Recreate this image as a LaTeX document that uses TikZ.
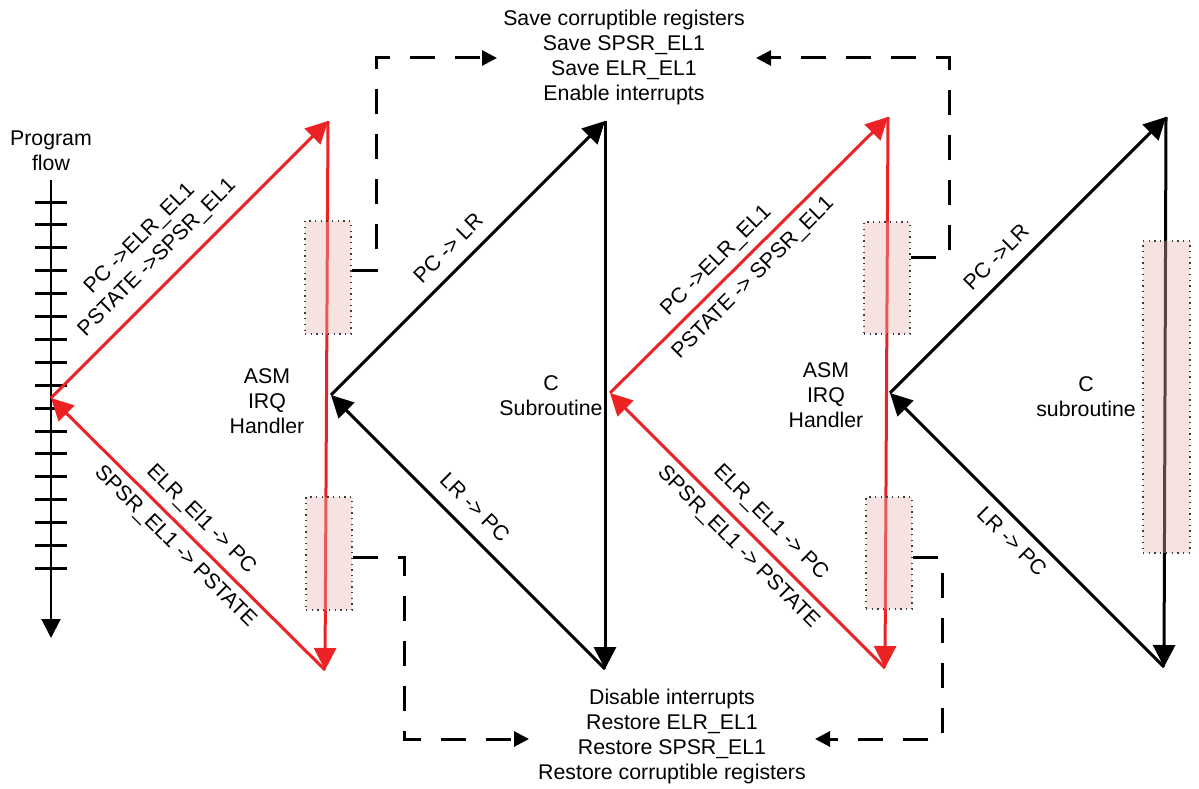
\documentclass[tikz,border=0pt]{standalone}
\usepackage{fontspec}
\setmainfont{Liberation Sans}
\usetikzlibrary{arrows.meta}
\definecolor{myred}{RGB}{236,34,36}
\definecolor{boxfill}{RGB}{230,180,175}
\definecolor{dotc}{RGB}{60,60,60}
\begin{document}
\begin{tikzpicture}[x=1pt,y=-1pt,
  txt/.style={font=\fontsize{21.3}{25}\selectfont, inner sep=0pt, align=center},
  redl/.style={draw=myred, line width=3pt, -{Triangle[length=22pt,width=22pt]}, myred},
  blkl/.style={draw=black, line width=3pt, -{Triangle[length=22pt,width=22pt]}},
  pinkbox/.style={fill=boxfill, fill opacity=0.38, draw=dotc, line width=1.3pt,
                  dash pattern=on 1.3pt off 4.4pt, inner sep=0pt},
  dashc/.style={draw=black, line width=3pt, dash pattern=on 25pt off 20pt,
                -{Triangle[length=15pt,width=15pt]}},
  tick/.style={draw=black, line width=3pt},
]
\useasboundingbox (0,0) rectangle (1199,789);

% ---------- program flow axis ----------
\node[txt] (pf) at (51,151) {Program\\flow};
\coordinate (ax0) at (51,180);
\coordinate (ax1) at (51,638);
\draw[line width=2pt, -{Triangle[length=19pt,width=19pt]}] (ax0) -- (ax1);
\foreach \i in {0,...,16}
  \draw[tick] (35,{202+22.9*\i}) -- (67,{202+22.9*\i});

% ---------- vertices ----------
\coordinate (r1L) at (51,398);
\coordinate (r1T) at (328,121);
\coordinate (r1B) at (325,670);
\coordinate (b1L) at (331,395);
\coordinate (b1T) at (605,121);
\coordinate (b1B) at (605,669);
\coordinate (r2L) at (610,393);
\coordinate (r2T) at (888,117);
\coordinate (r2B) at (885,668);
\coordinate (b2L) at (890,393);
\coordinate (b2T) at (1166,117);
\coordinate (b2B) at (1164,667);

% ---------- triangles ----------
\draw[redl] (r1L) -- (r1T);
\draw[redl] (r1T) -- (r1B);
\draw[redl] (r1B) -- (r1L);
\draw[blkl] (b1L) -- (b1T);
\draw[blkl] (b1T) -- (b1B);
\draw[blkl] (b1B) -- (b1L);
\draw[redl] (r2L) -- (r2T);
\draw[redl] (r2T) -- (r2B);
\draw[redl] (r2B) -- (r2L);
\draw[blkl] (b2L) -- (b2T);
\draw[blkl] (b2T) -- (b2B);
\draw[blkl] (b2B) -- (b2L);

% ---------- shaded boxes ----------
\node[pinkbox, minimum width=46pt, minimum height=113pt] (b1a) at (328,277.5) {};
\node[pinkbox, minimum width=46pt, minimum height=113pt] (b1b) at (329,553.5) {};
\node[pinkbox, minimum width=46pt, minimum height=112pt] (b2a) at (887,278) {};
\node[pinkbox, minimum width=46pt, minimum height=112pt] (b2b) at (889,553) {};
\node[pinkbox, minimum width=47pt, minimum height=312pt] (b3) at (1166.5,397) {};

% ---------- texts ----------
\node[txt] (save) at (624,57) {Save corruptible registers\\Save SPSR\_EL1\\Save ELR\_EL1\\Enable interrupts};
\node[txt] (rest) at (672,736) {Disable interrupts\\Restore ELR\_EL1\\Restore SPSR\_EL1\\Restore corruptible registers};
\node[txt] (asm1) at (267,401) {ASM\\IRQ\\Handler};
\node[txt] (asm2) at (826,395) {ASM\\IRQ\\Handler};
\node[txt] (c1) at (551,396) {C\\Subroutine};
\node[txt] (c2) at (1086,397) {C\\subroutine};

% ---------- diagonal labels ----------
\node[txt, rotate=45] (l1a) at (140,239) {PC ->ELR\_EL1};
\node[txt, rotate=45] (l1b) at (157.5,258) {PSTATE ->SPSR\_EL1};
\node[txt, rotate=-45] (l2a) at (201,519.5) {ELR\_El1 -> PC};
\node[txt, rotate=-45] (l2b) at (175,546.7) {SPSR\_EL1 -> PSTATE};
\node[txt, rotate=45] (l3) at (448,248) {PC -> LR};
\node[txt, rotate=-45] (l4) at (475,507) {LR -> PC};
\node[txt, rotate=45] (l5a) at (716.5,261) {PC ->ELR\_EL1};
\node[txt, rotate=45] (l5b) at (753.5,278) {PSTATE -> SPSR\_EL1};
\node[txt, rotate=-45] (l6a) at (770.5,522.5) {ELR\_EL1 -> PC};
\node[txt, rotate=-45] (l6b) at (738,547.5) {SPSR\_EL1 -> PSTATE};
\node[txt, rotate=45] (l7) at (996,257) {PC ->LR};
\node[txt, rotate=-45] (l8) at (1012,541) {LR -> PC};

% ---------- dashed connectors ----------
\coordinate (tl1) at (376,270);
\coordinate (tl2) at (376,58);
\coordinate (tlt) at (497,58);
\draw[dashc] (b1a.east |- tl1) -- (tl1) -- (tl2) -- (tlt);
\coordinate (tr1) at (949,257);
\coordinate (tr2) at (949,58);
\coordinate (trt) at (756,58);
\draw[dashc] (b2a.east |- tr1) -- (tr1) -- (tr2) -- (trt);
\coordinate (bl1) at (404,557);
\coordinate (bl2) at (404,739);
\coordinate (blt) at (529,739);
\draw[dashc] (b1b.east |- bl1) -- (bl1) -- (bl2) -- (blt);
\coordinate (br1) at (942,557);
\coordinate (br2) at (942,739);
\coordinate (brt) at (815,739);
\draw[dashc] (b2b.east |- br1) -- (br1) -- (br2) -- (brt);
\end{tikzpicture}
\end{document}
